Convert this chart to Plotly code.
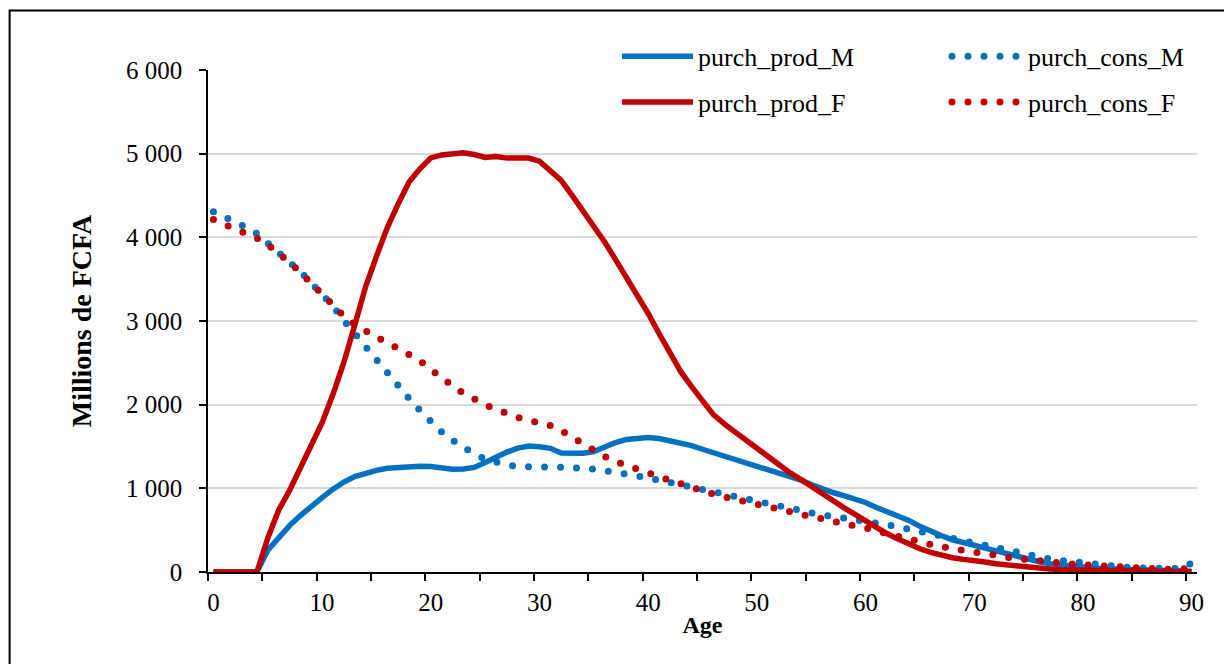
import plotly.graph_objects as go

ages = list(range(0, 91))

purch_prod_M = [
    0, 0, 0, 0, 0, 260, 420, 555, 675, 790,
    890, 990, 1075, 1140, 1185, 1215, 1240, 1252, 1262, 1265,
    1262, 1245, 1228, 1232, 1250, 1308, 1372, 1433, 1480, 1506,
    1497, 1478, 1422, 1420, 1420, 1440, 1500, 1547, 1585, 1600,
    1607, 1595, 1571, 1547, 1511, 1467, 1427, 1387, 1351, 1312,
    1272, 1233, 1185, 1149, 1101, 1046, 990, 950, 914, 879,
    831, 771, 724, 680, 616, 545, 485, 433, 385, 346,
    320, 286, 254, 214, 174, 147, 123, 99, 83, 67,
    55, 47, 39, 35, 27, 23, 19, 15, 14, 12,
    10,
]

purch_cons_M = [
    4307, 4250, 4190, 4120, 4045, 3935, 3830, 3716, 3590, 3455,
    3320, 3180, 3005, 2846, 2686, 2527, 2375, 2222, 2075, 1932,
    1800, 1675, 1575, 1480, 1410, 1352, 1312, 1280, 1262, 1254,
    1252, 1252, 1252, 1250, 1247, 1230, 1212, 1194, 1172, 1150,
    1125, 1098, 1070, 1042, 1014, 984, 954, 921, 892, 863,
    834, 805, 775, 755, 730, 700, 680, 665, 645, 626,
    615, 598, 577, 542, 512, 485, 458, 425, 390, 365,
    340, 308, 278, 258, 232, 208, 178, 155, 138, 122,
    108, 96, 82, 68, 56, 49, 43, 39, 36, 40,
    107,
]

purch_prod_F = [
    0, 0, 0, 0, 0, 405, 738, 974, 1240, 1487,
    1785, 2124, 2505, 2950, 3408, 3773, 4117, 4400, 4661, 4820,
    4950, 4985, 5000, 5010, 4990, 4955, 4965, 4947, 4947, 4948,
    4911, 4800, 4681, 4502, 4323, 4120, 3945, 3734, 3527, 3320,
    3090, 2851, 2612, 2394, 2215, 2036, 1880, 1770, 1670, 1580,
    1490, 1385, 1285, 1190, 1110, 1030, 942, 854, 770, 687,
    612, 537, 457, 393, 330, 278, 234, 198, 171, 151,
    140, 119, 99, 83, 67, 55, 43, 35, 27, 23,
    19, 15, 13, 11, 9, 8, 6, 5, 4, 3,
    3,
]

purch_cons_F = [
    4212, 4160, 4110, 4055, 3990, 3910, 3815, 3702, 3580, 3450,
    3315, 3185, 3060, 2960, 2875, 2808, 2742, 2676, 2605, 2525,
    2420, 2315, 2225, 2135, 2060, 2000, 1945, 1888, 1848, 1815,
    1791, 1750, 1690, 1610, 1530, 1440, 1380, 1320, 1272, 1225,
    1170, 1125, 1095, 1055, 1010, 972, 932, 898, 862, 836,
    810, 783, 760, 722, 690, 665, 640, 615, 582, 556,
    527, 497, 458, 422, 385, 358, 330, 302, 275, 250,
    238, 222, 194, 177, 161, 145, 132, 118, 107, 96,
    86, 78, 70, 61, 50, 42, 36, 32, 31, 38,
    44,
]

x_ticks = list(range(0, 91, 10))
y_ticks = [0, 1000, 2000, 3000, 4000, 5000, 6000]

blue = "#0070C0"
red = "#C00000"
serif = "Liberation Serif"

fig = go.Figure()

fig.add_trace(go.Scatter(x=ages, y=purch_prod_M, name="purch_prod_M", mode="lines",
                         line=dict(color=blue, width=5.5), legend="legend", legendgroup="a"))
fig.add_trace(go.Scatter(x=ages, y=purch_cons_M, name="purch_cons_M", mode="lines",
                         line=dict(color=blue, width=7, dash="0px,16px"), legend="legend2", legendgroup="c"))
fig.add_trace(go.Scatter(x=ages, y=purch_prod_F, name="purch_prod_F", mode="lines",
                         line=dict(color=red, width=5.5), legend="legend", legendgroup="b"))
fig.add_trace(go.Scatter(x=ages, y=purch_cons_F, name="purch_cons_F", mode="lines",
                         line=dict(color=red, width=7, dash="0px,16px"), legend="legend2", legendgroup="d"))

# white patch behind the legend, hides the top gridline like in excel
fig.add_shape(type="rect", xref="x", yref="y", x0=32.8, x1=91, y0=5900, y1=6100,
              fillcolor="white", line=dict(width=0), layer="between")

# chart border (runs off the right and bottom of the picture)
fig.add_shape(type="rect", xref="paper", yref="paper", x0=-0.2006, x1=1.04, y0=-0.2, y1=1.1183,
              line=dict(color="black", width=2), fillcolor="rgba(0,0,0,0)", layer="above")

legend_style = dict(font=dict(family=serif, size=26, color="black"), bgcolor="rgba(0,0,0,0)",
                    itemwidth=71, tracegroupgap=9, yanchor="top", xanchor="left", traceorder="grouped")

fig.update_layout(
    width=1224,
    height=664,
    margin=dict(l=208, r=27, t=70, b=92),
    paper_bgcolor="white",
    plot_bgcolor="white",
    font=dict(family=serif, color="black"),
    separators=". ",
    showlegend=True,
    legend=dict(x=0.4136, y=1.074, **legend_style),
    legend2=dict(x=0.7472, y=1.074, **legend_style),
    xaxis=dict(
        range=[-0.5, 90.5],
        tickvals=x_ticks,
        ticks="outside", ticklen=7, tickcolor="rgba(0,0,0,0)",
        tickfont=dict(family=serif, size=25),
        minor=dict(tick0=-0.5, dtick=5, ticks="outside", ticklen=7, tickwidth=1.5, tickcolor="black"),
        showline=True, linecolor="black", linewidth=1.5,
        showgrid=False, zeroline=False,
        title=dict(text="Age", font=dict(family=serif, size=24, weight="bold"), standoff=1),
    ),
    yaxis=dict(
        range=[0, 6000],
        tickvals=y_ticks,
        tickformat=",d", separatethousands=True,
        ticks="outside", ticklen=7, tickwidth=1.5, tickcolor="black",
        tickfont=dict(family=serif, size=25),
        ticklabelstandoff=12,
        showline=True, linecolor="black", linewidth=1.5,
        showgrid=True, gridcolor="#d9d9d9", gridwidth=1.5, zeroline=False,
        title=dict(text="Millions de FCFA", font=dict(family=serif, size=28, weight="bold"), standoff=26),
    ),
)

# excel draws round dots, so give the dotted lines round caps
round_dots = """
document.body.style.margin = '0';
document.querySelectorAll('path.js-line').forEach(function(p) {
    if (p.style.strokeDasharray && p.style.strokeDasharray !== 'none') {
        p.style.strokeLinecap = 'round';
    }
});
"""

fig.write_html("out.html", post_script=round_dots, config={"displayModeBar": False})
